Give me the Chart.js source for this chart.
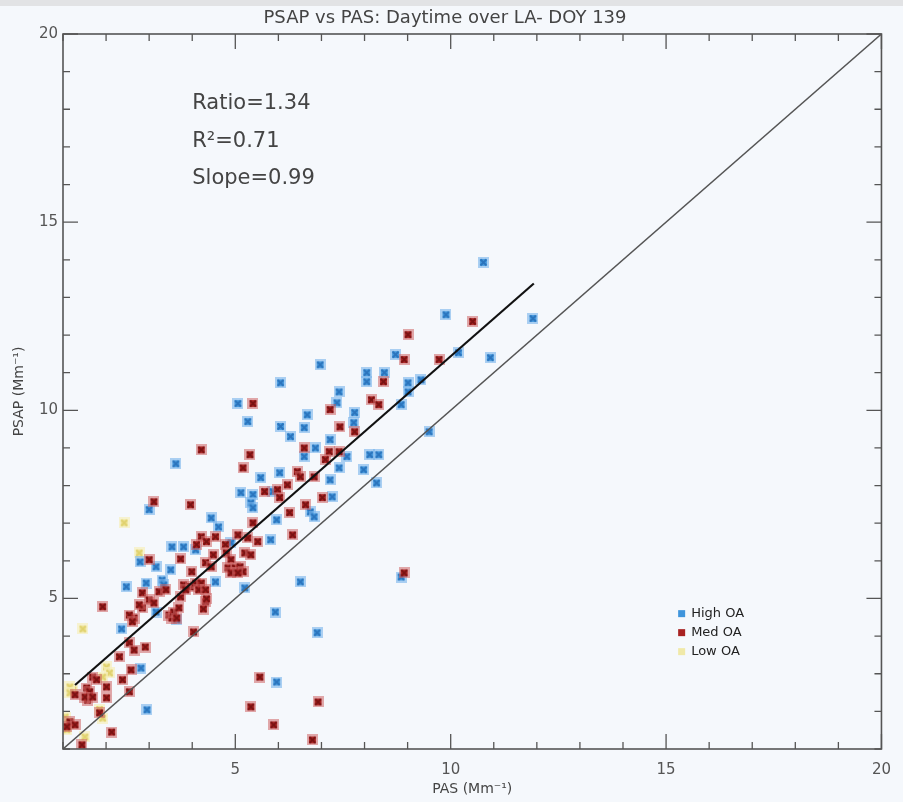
<!DOCTYPE html>
<html>
<head>
<meta charset="utf-8">
<title>PSAP vs PAS: Daytime over LA- DOY 139</title>
<script src="https://cdn.jsdelivr.net/npm/chart.js@4.4.1/dist/chart.umd.min.js"></script>
<style>
  html, body { margin: 0; padding: 0; background: #f5f8fc; }
  #wrap { width: 903px; height: 802px; }
</style>
</head>
<body>
<div id="wrap"><canvas id="scatter-chart" width="903" height="802"></canvas></div>
<script>
// PAS (x) vs PSAP (y) absorption, Mm-1
var highOA = [
    [10.76, 13.93], [9.89, 12.54], [11.91, 12.44], [8.72, 11.48], [10.18, 11.53], [10.92, 11.40],
    [6.97, 11.21], [8.05, 11.00], [8.46, 11.00], [8.05, 10.76], [9.01, 10.73], [9.31, 10.81],
    [7.41, 10.49], [9.01, 10.49], [7.36, 10.20], [8.85, 10.15], [6.67, 9.88], [7.77, 9.94],
    [6.60, 9.54], [7.75, 9.67], [9.50, 9.43], [6.05, 10.73], [5.06, 10.18], [5.29, 9.70],
    [6.05, 9.57], [6.28, 9.30], [7.20, 9.22], [6.86, 9.00], [6.60, 8.77], [7.59, 8.77],
    [8.12, 8.82], [8.33, 8.82], [7.41, 8.47], [7.98, 8.42], [8.28, 8.07], [7.20, 8.15],
    [6.03, 8.34], [5.59, 8.21], [5.13, 7.81], [5.87, 7.84], [5.41, 7.76], [5.36, 7.54],
    [5.41, 7.41], [7.25, 7.70], [6.74, 7.30], [6.83, 7.17], [5.96, 7.09], [4.44, 7.14],
    [4.61, 6.90], [5.82, 6.56], [3.62, 8.58], [3.00, 7.36], [6.51, 5.44], [5.93, 4.64],
    [3.53, 6.37], [3.80, 6.37], [4.08, 6.29], [4.90, 6.48], [2.79, 5.97], [3.16, 5.84],
    [3.50, 5.76], [3.30, 5.49], [3.34, 5.36], [4.54, 5.44], [2.93, 5.41], [2.47, 5.31],
    [3.16, 4.64], [3.64, 4.43], [2.36, 4.19], [2.81, 3.15], [2.95, 2.04], [8.85, 5.57],
    [6.90, 4.09], [5.96, 2.78], [5.22, 5.28]
];
var medOA = [
    [10.51, 12.36], [9.01, 12.01], [8.92, 11.35], [9.73, 11.35], [8.44, 10.76], [7.20, 10.02],
    [8.16, 10.28], [8.33, 10.15], [7.43, 9.56], [7.77, 9.43], [5.41, 10.18], [4.21, 8.95],
    [5.34, 8.82], [5.18, 8.47], [6.60, 9.00], [7.18, 8.90], [7.41, 8.90], [7.09, 8.69],
    [6.83, 8.23], [6.44, 8.37], [6.51, 8.23], [6.21, 8.02], [5.68, 7.84], [5.98, 7.89],
    [6.03, 7.68], [6.63, 7.49], [7.02, 7.68], [6.26, 7.28], [5.41, 7.01], [4.54, 6.64],
    [4.21, 6.64], [4.33, 6.51], [4.77, 6.43], [5.06, 6.69], [5.52, 6.51], [6.33, 6.69],
    [3.11, 7.57], [3.96, 7.49], [4.10, 6.43], [5.29, 6.61], [5.22, 6.21], [4.49, 6.16],
    [4.79, 6.21], [4.90, 6.03], [3.73, 6.05], [3.00, 6.03], [4.31, 5.95], [4.44, 5.84],
    [4.83, 5.81], [5.00, 5.81], [5.11, 5.84], [5.18, 5.71], [4.90, 5.68], [5.06, 5.68],
    [5.36, 6.16], [3.99, 5.71], [2.84, 5.15], [3.23, 5.18], [3.39, 5.23], [3.80, 5.36],
    [3.96, 5.31], [4.08, 5.41], [4.21, 5.41], [4.15, 5.23], [4.31, 5.23], [4.31, 4.91],
    [3.00, 4.96], [3.11, 4.88], [1.92, 4.78], [3.46, 4.56], [3.53, 4.48], [3.57, 4.64],
    [3.64, 4.48], [3.69, 4.75], [3.73, 5.04], [3.85, 5.23], [4.26, 4.72], [4.33, 4.99],
    [2.84, 4.75], [2.77, 4.83], [2.65, 4.48], [2.54, 4.56], [2.61, 4.38], [4.03, 4.11],
    [2.54, 3.82], [2.65, 3.63], [2.91, 3.71], [2.31, 3.45], [2.58, 3.10], [2.38, 2.84],
    [2.54, 2.52], [1.69, 2.91], [1.78, 2.84], [1.55, 2.62], [1.62, 2.52], [1.57, 2.30],
    [1.51, 2.38], [1.69, 2.38], [2.01, 2.65], [2.01, 2.36], [1.28, 2.44], [1.16, 1.72],
    [1.28, 1.64], [1.09, 1.59], [2.13, 1.45], [1.44, 1.11], [5.57, 2.91], [5.36, 2.12],
    [5.89, 1.64], [8.92, 5.68], [6.92, 2.25], [6.79, 1.24], [1.85, 1.96]
];
var lowOA = [
    [2.42, 7.01], [2.77, 6.21], [1.46, 4.19], [2.01, 3.18], [2.08, 3.02], [1.92, 2.91],
    [1.23, 2.57], [1.16, 2.65], [1.92, 1.82], [1.05, 1.85], [1.09, 1.51], [1.51, 1.32],
    [1.16, 2.49], [1.12, 1.69], [1.85, 2.05]
];

// fit line and 1:1 line end points
var fitPAS = [1.28, 11.93];
var fitPSAP = [2.70, 13.37];
var onePAS = [1, 20];
var onePSAP = [1, 20];

var xTickValues = [5, 10, 15, 20];
var yTickValues = [5, 10, 15, 20];
var statLines = ['Ratio=1.34', 'R\u00b2=0.71', 'Slope=0.99'];

var FONT = "'DejaVu Sans', 'Liberation Sans', sans-serif";

function toPoints(rows) {
    return rows.map(function (r) { return { x: r[0], y: r[1] }; });
}
function linePoints(xs, ys) {
    return xs.map(function (v, i) { return { x: v, y: ys[i] }; });
}

// little blurry "x in a square" marker like the IDL plot
function makeMarker(edge, fill, cross) {
    var m = document.createElement('canvas');
    m.width = 11; m.height = 11;
    var g = m.getContext('2d');
    g.fillStyle = edge;
    g.fillRect(0, 0, 11, 11);
    g.fillStyle = fill;
    g.fillRect(2, 2, 7, 7);
    g.strokeStyle = cross;
    g.lineWidth = 2;
    g.beginPath();
    g.moveTo(2.5, 2.5); g.lineTo(8.5, 8.5);
    g.moveTo(8.5, 2.5); g.lineTo(2.5, 8.5);
    g.stroke();
    return m;
}

var blueMark = makeMarker('rgba(120,180,235,0.6)', '#4a9de0', '#2b74bd');
var redMark = makeMarker('rgba(205,100,100,0.55)', '#b02a2a', '#7a1212');
var yellowMark = makeMarker('rgba(246,240,190,0.7)', '#efe49c', '#e0d26e');

// background with the grey strip at the very top
var backdrop = {
    id: 'backdrop',
    beforeDraw: function (chart) {
        var c = chart.ctx;
        c.save();
        c.fillStyle = '#f5f8fc';
        c.fillRect(0, 0, chart.width, chart.height);
        c.fillStyle = '#e2e3e5';
        c.fillRect(0, 0, chart.width, 6);
        c.restore();
    }
};

// box round the plot with inward ticks on all four sides
var frameTicks = {
    id: 'frameTicks',
    afterDatasetsDraw: function (chart) {
        var a = chart.chartArea, xs = chart.scales.x, ys = chart.scales.y, c = chart.ctx;
        c.save();
        c.strokeStyle = '#555';
        c.lineWidth = 1.6;
        c.strokeRect(a.left, a.top, a.right - a.left, a.bottom - a.top);
        c.lineWidth = 1.3;
        c.beginPath();
        for (var v = Math.ceil(xs.min); v <= xs.max; v++) {
            var len = v % 5 === 0 ? 15 : 7;
            var px = xs.getPixelForValue(v);
            c.moveTo(px, a.bottom); c.lineTo(px, a.bottom - len);
            c.moveTo(px, a.top); c.lineTo(px, a.top + len);
        }
        for (var w = Math.ceil(ys.min); w <= ys.max; w++) {
            var ln = w % 5 === 0 ? 15 : 7;
            var py = ys.getPixelForValue(w);
            c.moveTo(a.left, py); c.lineTo(a.left + ln, py);
            c.moveTo(a.right, py); c.lineTo(a.right - ln, py);
        }
        c.stroke();
        c.restore();
    }
};

// ratio / R2 / slope text block
var statsText = {
    id: 'statsText',
    afterDraw: function (chart) {
        var xs = chart.scales.x, ys = chart.scales.y, c = chart.ctx;
        c.save();
        c.font = '21px ' + FONT;
        c.fillStyle = '#444';
        c.textBaseline = 'middle';
        for (var i = 0; i < statLines.length; i++) {
            c.fillText(statLines[i], xs.getPixelForValue(4.0), ys.getPixelForValue(18.15 - i));
        }
        c.restore();
    }
};

// small legend inside the plot, lower right
var insideLegend = {
    id: 'insideLegend',
    afterDraw: function (chart) {
        var xs = chart.scales.x, ys = chart.scales.y, c = chart.ctx;
        var x0 = xs.getPixelForValue(15.35), y0 = ys.getPixelForValue(4.61);
        var row = 0;
        c.save();
        c.font = '13px ' + FONT;
        c.textBaseline = 'middle';
        chart.data.datasets.forEach(function (ds) {
            if (!ds.legendColor) return;
            var y = y0 + row * 19;
            c.fillStyle = ds.legendColor;
            c.fillRect(x0 - 3, y - 3, 7, 7);
            c.fillStyle = '#222';
            c.fillText(ds.label, x0 + 10, y);
            row++;
        });
        c.restore();
    }
};

var ctx = document.getElementById('scatter-chart').getContext('2d');

var config = {
    type: 'scatter',
    data: {
        datasets: [
            {
                label: 'fit',
                data: linePoints(fitPAS, fitPSAP),
                showLine: true,
                borderColor: '#111',
                borderWidth: 2.2,
                pointRadius: 0,
                order: 0
            },
            {
                label: '1:1',
                data: linePoints(onePAS, onePSAP),
                showLine: true,
                borderColor: '#555',
                borderWidth: 1.5,
                pointRadius: 0,
                order: 0
            },
            {
                label: 'High OA',
                data: toPoints(highOA),
                pointStyle: blueMark,
                pointRadius: 5,
                legendColor: '#3f95dc',
                order: 2
            },
            {
                label: 'Med OA',
                data: toPoints(medOA),
                pointStyle: redMark,
                pointRadius: 5,
                legendColor: '#a82222',
                order: 1
            },
            {
                label: 'Low OA',
                data: toPoints(lowOA),
                pointStyle: yellowMark,
                pointRadius: 5,
                legendColor: '#f0e9a8',
                order: 3
            }
        ]
    },
    options: {
        responsive: false,
        animation: false,
        layout: {
            padding: { left: 0, right: 13, top: 0, bottom: 0 }
        },
        scales: {
            x: {
                type: 'linear',
                min: 1,
                max: 20,
                afterBuildTicks: function (s) {
                    s.ticks = xTickValues.map(function (v) { return { value: v }; });
                },
                afterFit: function (s) { s.height = 53; },
                grid: { display: false, drawTicks: false },
                border: { display: false },
                ticks: {
                    autoSkip: false,
                    maxRotation: 0,
                    padding: 12,
                    color: '#555',
                    font: { family: FONT, size: 15 }
                },
                title: {
                    display: true,
                    text: 'PAS (Mm\u207b\u00b9)',
                    color: '#444',
                    font: { family: FONT, size: 14 },
                    padding: { top: 0, bottom: 4 }
                }
            },
            y: {
                type: 'linear',
                min: 1,
                max: 20,
                afterBuildTicks: function (s) {
                    s.ticks = yTickValues.map(function (v) { return { value: v }; });
                },
                afterFit: function (s) { s.width = 63; },
                grid: { display: false, drawTicks: false },
                border: { display: false },
                ticks: {
                    autoSkip: false,
                    padding: 5,
                    color: '#555',
                    font: { family: FONT, size: 15 }
                },
                title: {
                    display: true,
                    text: 'PSAP (Mm\u207b\u00b9)',
                    color: '#444',
                    font: { family: FONT, size: 14 },
                    padding: { top: 11, bottom: 0 }
                }
            }
        },
        plugins: {
            title: {
                display: true,
                text: 'PSAP vs PAS: Daytime over LA- DOY 139',
                color: '#444',
                font: { family: FONT, size: 18, weight: 'normal' },
                padding: { top: 7.2, bottom: 5.2 }
            },
            legend: { display: false },
            tooltip: { enabled: false }
        }
    },
    plugins: [backdrop, frameTicks, statsText, insideLegend]
};

var scatterChart = new Chart(ctx, config);
</script>
</body>
</html>
